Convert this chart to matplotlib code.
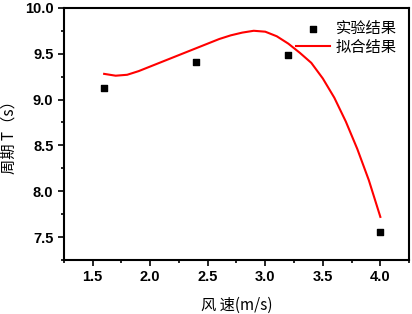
import matplotlib
matplotlib.use("Agg")
import matplotlib.pyplot as plt
from matplotlib.ticker import MultipleLocator

# 实验数据
wind_speed = [1.6, 2.4, 3.2, 4.0]
period = [9.13, 9.41, 9.49, 7.55]

# 拟合曲线 (读图取点)
fit_x = [1.6, 1.7, 1.8, 1.9, 2.0, 2.1, 2.2, 2.3, 2.4, 2.5, 2.6, 2.7, 2.8,
         2.9, 3.0, 3.1, 3.2, 3.3, 3.4, 3.5, 3.6, 3.7, 3.8, 3.9, 4.0]
fit_y = [9.28, 9.26, 9.27, 9.31, 9.36, 9.41, 9.46, 9.51, 9.56, 9.61, 9.66,
         9.70, 9.73, 9.75, 9.74, 9.69, 9.61, 9.51, 9.40, 9.23, 9.02, 8.76,
         8.46, 8.12, 7.72]

x_ticks = [1.5, 2.0, 2.5, 3.0, 3.5, 4.0]
y_ticks = [7.5, 8.0, 8.5, 9.0, 9.5, 10.0]

cjk = ['Noto Sans CJK SC', 'DejaVu Sans']
tick_font = {'family': 'Liberation Sans', 'weight': 'bold', 'size': 10.5}

fig = plt.figure(figsize=(4.12, 3.14), dpi=100)
ax = fig.add_axes([0.155, 0.172, 0.838, 0.803])

ax.scatter(wind_speed, period, marker='s', s=20, color='black', label='实验结果', zorder=3)
ax.plot(fit_x, fit_y, color='red', linewidth=1.5, label='拟合结果', solid_joinstyle='round')

ax.set_xlim(1.25, 4.25)
ax.set_ylim(7.25, 10.0)
ax.set_xticks(x_ticks)
ax.set_yticks(y_ticks)
ax.set_xticklabels([f"{v:.1f}" for v in x_ticks], fontdict=tick_font)
ax.set_yticklabels([f"{v:.1f}" for v in y_ticks], fontdict=tick_font)
ax.xaxis.set_minor_locator(MultipleLocator(0.25))
ax.yaxis.set_minor_locator(MultipleLocator(0.25))
ax.tick_params(which='major', direction='out', length=4, width=1.2,
               top=False, right=False)
ax.tick_params(which='minor', direction='out', length=2, width=1.2,
               top=False, right=False)
for sp in ax.spines.values():
    sp.set_linewidth(1.5)

ax.set_xlabel('风 速(m/s)', family=cjk, fontsize=11)
ax.set_ylabel('周期 T（s）', family=cjk, fontsize=11)
ax.xaxis.set_label_coords(0.5, -0.145)
ax.yaxis.set_label_coords(-0.135, 0.5)

ax.legend(loc='upper right', frameon=False, prop={'family': cjk, 'size': 11},
          handlelength=2.2, handletextpad=0.4, labelspacing=0.1,
          borderaxespad=0.4)

fig.savefig('out.png', dpi=100)
